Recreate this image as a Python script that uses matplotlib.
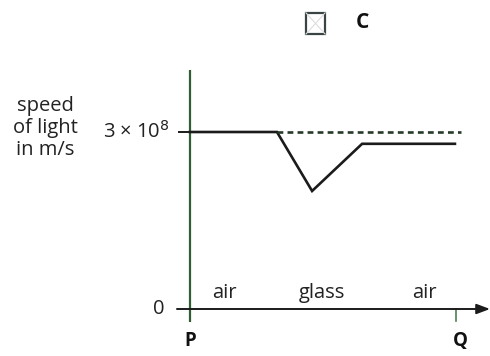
import matplotlib
matplotlib.use("Agg")
import matplotlib.pyplot as plt
from matplotlib.patches import Rectangle

plt.rcParams['font.family'] = ['Open Sans', 'DejaVu Sans']

# Position along the path P -> Q (P = 0, Q = 10) and speed in units of 1e8 m/s
path_x = [0.0, 3.27, 4.59, 6.47, 9.96]
speed = [3.0, 3.0, 2.0, 2.8, 2.8]
ref_x = [3.27, 10.2]
ref_speed = [3.0, 3.0]
media = ["air", "glass", "air"]
media_x = [1.28, 4.96, 8.8]
c_speed = 3.0

fig = plt.figure(figsize=(4.9, 3.56), dpi=100)
ax = fig.add_axes([0, 0, 1, 1])
ax.set_xlim(-190 / 26.6, 300 / 26.6)
ax.set_ylim(-47 / 59, 309 / 59)
ax.axis("off")

ink = "#1b1b1b"
txt = "#222222"
axis_green = "#2f5f35"
fs = 14.5

# axes of the sketch
ax.plot([0, 0], [-0.22, 4.05], color=axis_green, lw=1.6, solid_capstyle="butt")
ax.annotate("", xy=(11.28, 0), xytext=(-0.49, 0),
            arrowprops=dict(arrowstyle="-|>,head_length=0.8,head_width=0.3",
                            color=ink, lw=1.4, shrinkA=0, shrinkB=0))
ax.plot([10, 10], [-0.2, 0], color="#4f7f55", lw=1.2)
ax.plot([-0.4, 0], [c_speed, c_speed], color=ink, lw=1.4)

# speed profile and the reference level
ax.plot(path_x, speed, color=ink, lw=1.9, solid_joinstyle="miter")
ax.plot(ref_x, ref_speed, color="#253a28", lw=1.9, ls=(0, (2.2, 1.6)))

# labels
ax.text(-5.45, 3.07, "speed\nof light\nin m/s", ha="center", va="center",
        fontsize=fs, linespacing=1.15, color=txt)
ax.text(-0.75, c_speed, r"3 × 10$^8$", ha="right", va="center",
        fontsize=fs, color=txt)
ax.text(-0.94, 0, "0", ha="right", va="center", fontsize=fs, color=txt)
ax.text(0, -0.54, "P", ha="center", va="center", fontsize=fs - 1,
        fontweight="bold", color="#111111")
ax.text(10.15, -0.54, "Q", ha="center", va="center", fontsize=fs - 1,
        fontweight="bold", color="#111111")
for name, mx in zip(media, media_x):
    ax.text(mx, 0.27, name, ha="center", va="center", fontsize=fs,
            color=txt)

# answer option checkbox
bx0, bx1, by0, by1 = 4.36, 5.08, 4.66, 5.02
ax.plot([bx0, bx1], [by0, by1], color="#dddddd", lw=0.8)
ax.plot([bx0, bx1], [by1, by0], color="#dddddd", lw=0.8)
ax.add_patch(Rectangle((bx0, by0), bx1 - bx0, by1 - by0, fill=False,
                       edgecolor="#3a4444", lw=1.6))
ax.text(6.47, 4.85, "C", ha="center", va="center", fontsize=15,
        fontweight="bold", color="#111111")

fig.savefig("out.png", dpi=100)
